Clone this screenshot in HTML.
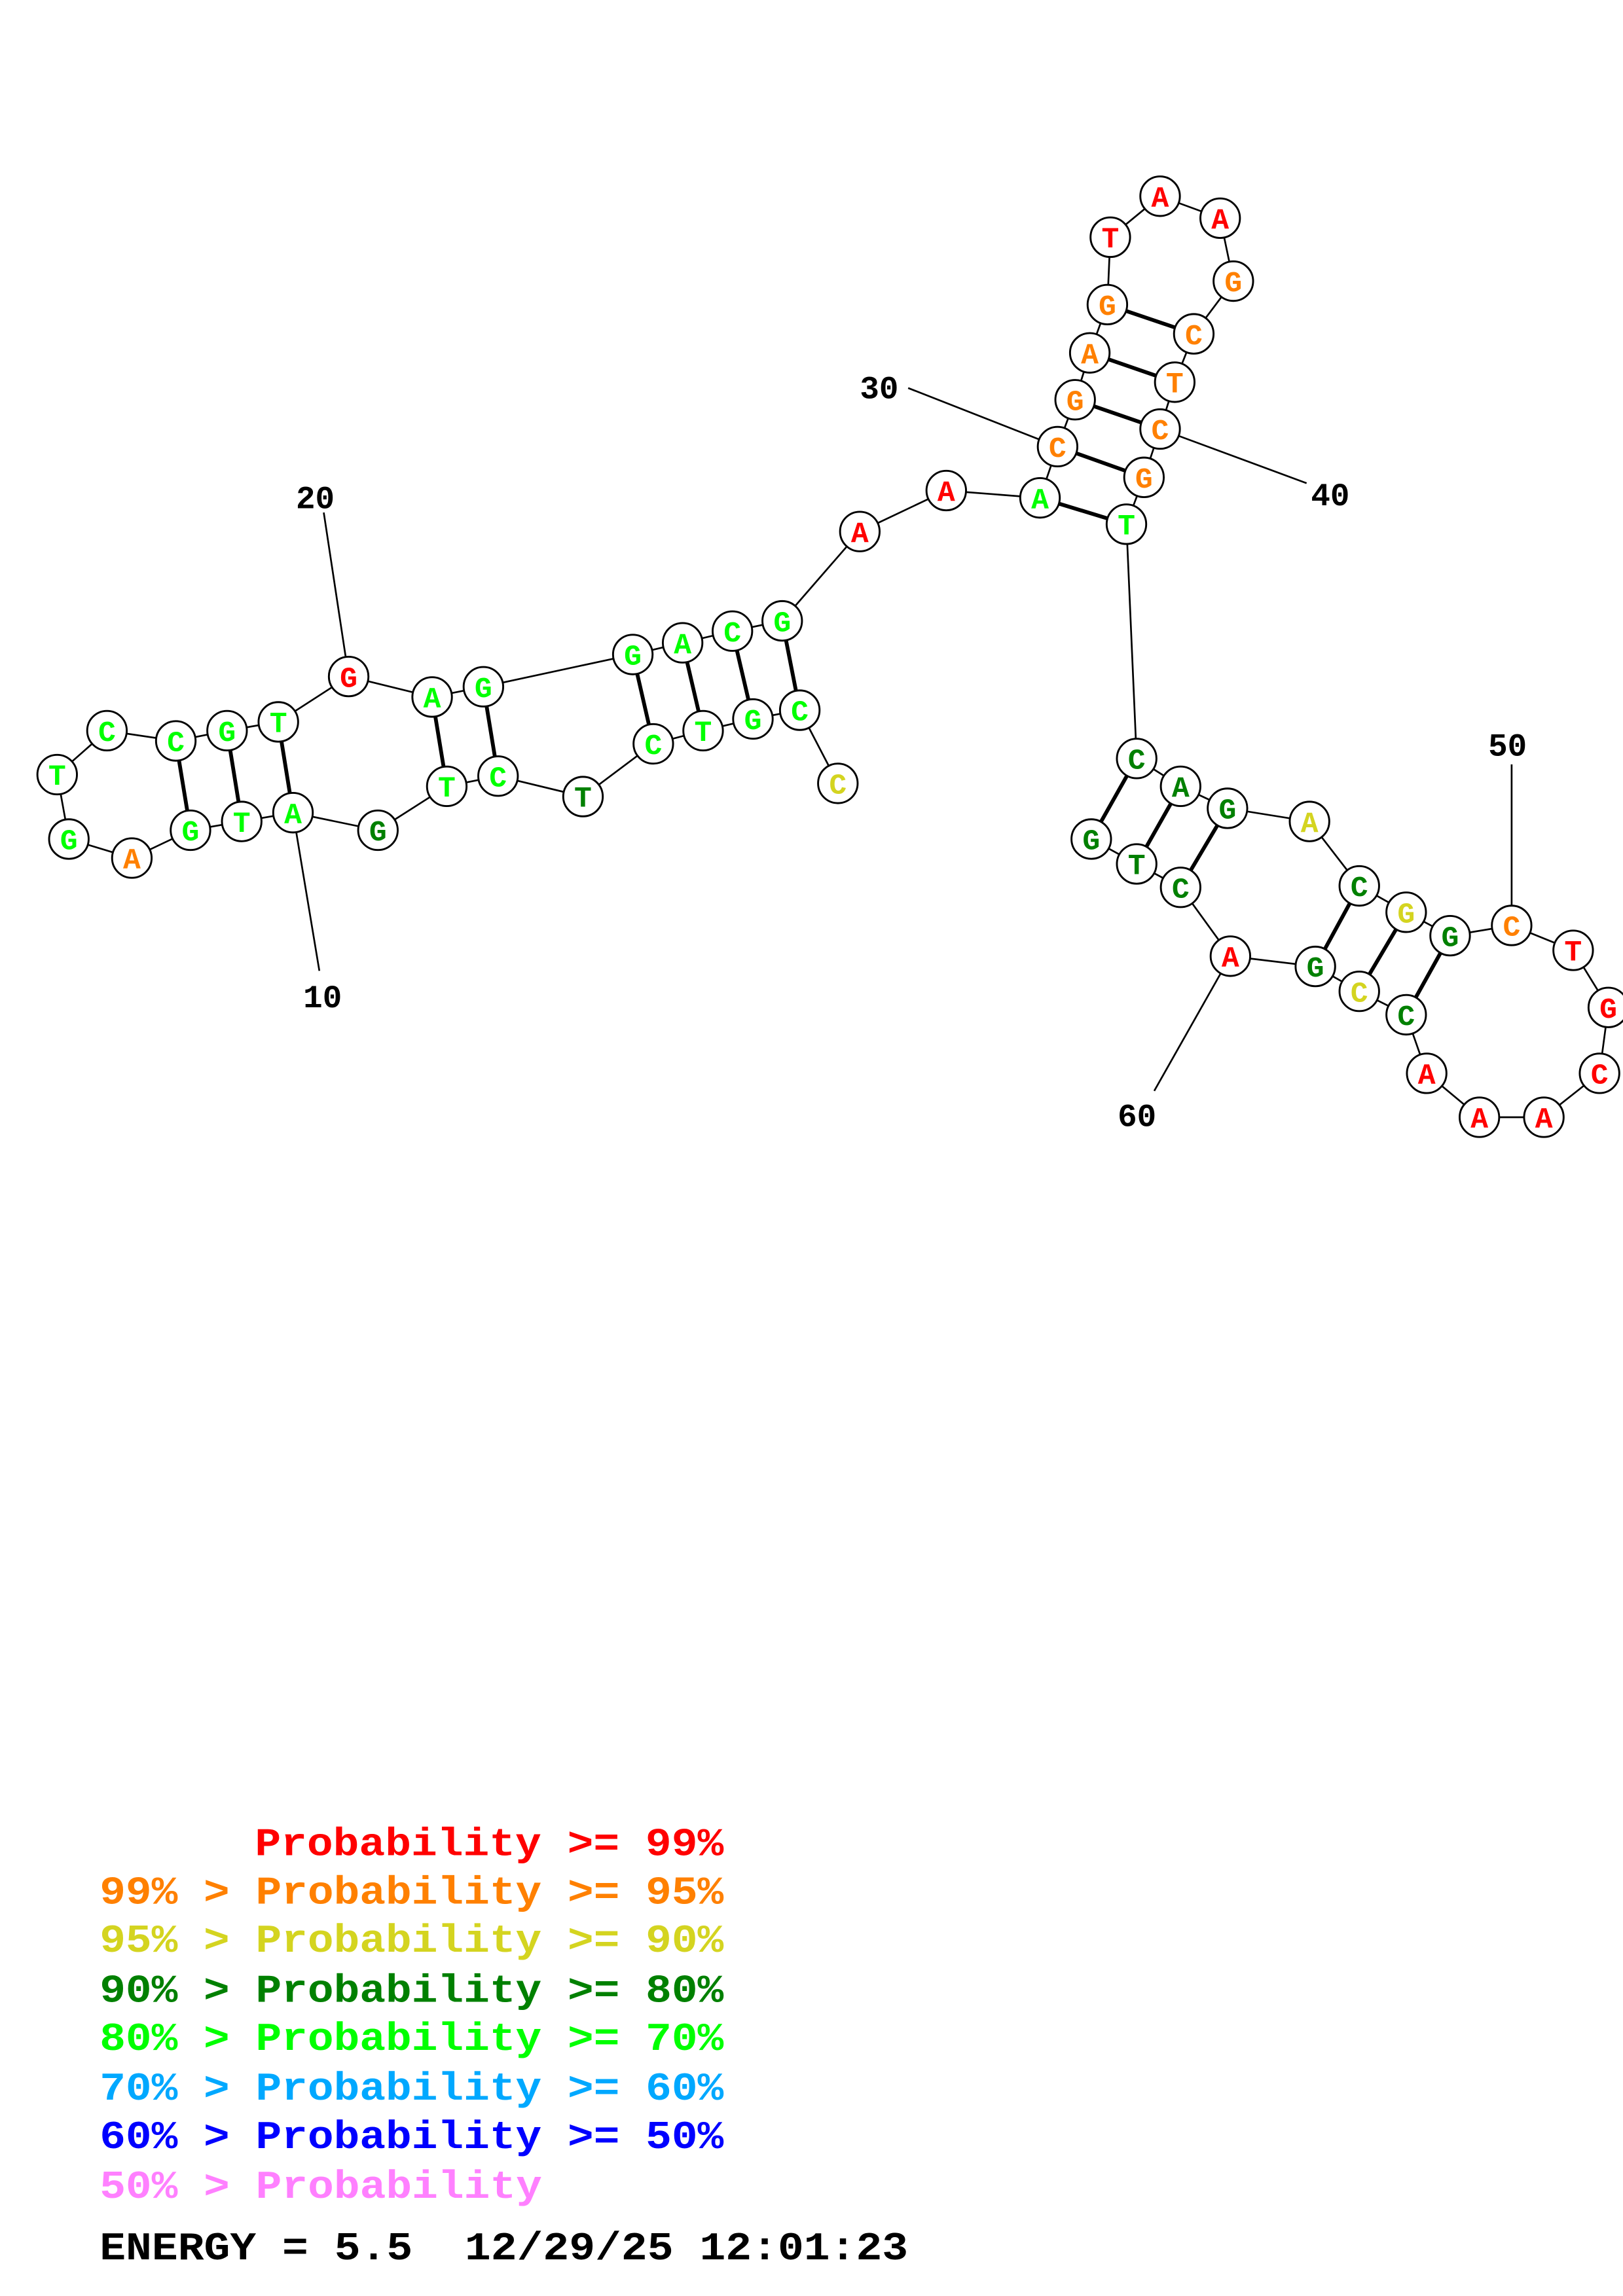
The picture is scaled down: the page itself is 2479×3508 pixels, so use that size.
<!DOCTYPE html>
<html><head><meta charset="utf-8"><style>
html,body{margin:0;padding:0;background:#fff;}
svg{display:block;}
.n circle{fill:#fff;stroke:#000;stroke-width:1.3;}
.n text{font-family:"Liberation Mono",monospace;font-weight:bold;font-size:20px;text-anchor:middle;}
.bb{stroke:#000;stroke-width:1.2;fill:none;}
.bp{stroke:#000;stroke-width:2.6;}
.lab{font-family:"Liberation Mono",monospace;font-weight:bold;font-size:22px;fill:#000;}
.lg{font-family:"Liberation Mono",monospace;font-weight:bold;font-size:27px;white-space:pre;}
</style></head><body>
<svg width="2479" height="3508" viewBox="0 0 1108 1568" xmlns="http://www.w3.org/2000/svg">
<polyline class="bb" points="572,535 546,485 514,491 480,499 446,508 398,544 340,530 305,537 258,567 200,555 165,561 130,567 90,586 47,573 39,529 73,499 120,506 155,499 190,493 238,462 295,476 330,469 432,447 466,439 500,431 534,424 587,363 646,335 710,340 722,305 734,273 744,241 756,208 758,162 792,134 833,149 842,192 815,228 802,261 792,293 781,326 769,358 776,518 806,537 838,552 894,561 928,605 960,623 990,639 1032,632 1074,649 1098,688 1092,733 1054,763 1010,763 974,733 960,693 928,677 898,660 840,653 806,606 776,590 745,573"/>
<g class="bp">
<line x1="546" y1="485" x2="534" y2="424"/><line x1="514" y1="491" x2="500" y2="431"/>
<line x1="480" y1="499" x2="466" y2="439"/><line x1="446" y1="508" x2="432" y2="447"/>
<line x1="340" y1="530" x2="330" y2="469"/><line x1="305" y1="537" x2="295" y2="476"/>
<line x1="200" y1="555" x2="190" y2="493"/><line x1="165" y1="561" x2="155" y2="499"/>
<line x1="130" y1="567" x2="120" y2="506"/>
<line x1="710" y1="340" x2="769" y2="358"/><line x1="722" y1="305" x2="781" y2="326"/>
<line x1="734" y1="273" x2="792" y2="293"/><line x1="744" y1="241" x2="802" y2="261"/>
<line x1="756" y1="208" x2="815" y2="228"/>
<line x1="776" y1="518" x2="745" y2="573"/><line x1="806" y1="537" x2="776" y2="590"/>
<line x1="838" y1="552" x2="806" y2="606"/><line x1="928" y1="605" x2="898" y2="660"/>
<line x1="960" y1="623" x2="928" y2="677"/><line x1="990" y1="639" x2="960" y2="693"/>
</g>
<g class="bb">
<line x1="200" y1="555" x2="218" y2="663"/><line x1="238" y1="462" x2="221" y2="350"/>
<line x1="722" y1="305" x2="620" y2="265"/><line x1="792" y1="293" x2="892" y2="330"/>
<line x1="1032" y1="632" x2="1032" y2="522"/><line x1="840" y1="653" x2="788" y2="745"/>
</g>
<text class="lab" x="207" y="688">10</text>
<text class="lab" x="202" y="347">20</text>
<text class="lab" x="587" y="272">30</text>
<text class="lab" x="895" y="345">40</text>
<text class="lab" x="1016" y="516">50</text>
<text class="lab" x="763" y="769">60</text>
<g class="n">
<circle cx="572" cy="535" r="13.5"/><text x="572" y="542" fill="#d4d420">C</text>
<circle cx="546" cy="485" r="13.5"/><text x="546" y="492" fill="#00ff00">C</text>
<circle cx="514" cy="491" r="13.5"/><text x="514" y="498" fill="#00ff00">G</text>
<circle cx="480" cy="499" r="13.5"/><text x="480" y="506" fill="#00ff00">T</text>
<circle cx="446" cy="508" r="13.5"/><text x="446" y="515" fill="#00ff00">C</text>
<circle cx="398" cy="544" r="13.5"/><text x="398" y="551" fill="#008000">T</text>
<circle cx="340" cy="530" r="13.5"/><text x="340" y="537" fill="#00ff00">C</text>
<circle cx="305" cy="537" r="13.5"/><text x="305" y="544" fill="#00ff00">T</text>
<circle cx="258" cy="567" r="13.5"/><text x="258" y="574" fill="#008000">G</text>
<circle cx="200" cy="555" r="13.5"/><text x="200" y="562" fill="#00ff00">A</text>
<circle cx="165" cy="561" r="13.5"/><text x="165" y="568" fill="#00ff00">T</text>
<circle cx="130" cy="567" r="13.5"/><text x="130" y="574" fill="#00ff00">G</text>
<circle cx="90" cy="586" r="13.5"/><text x="90" y="593" fill="#ff8000">A</text>
<circle cx="47" cy="573" r="13.5"/><text x="47" y="580" fill="#00ff00">G</text>
<circle cx="39" cy="529" r="13.5"/><text x="39" y="536" fill="#00ff00">T</text>
<circle cx="73" cy="499" r="13.5"/><text x="73" y="506" fill="#00ff00">C</text>
<circle cx="120" cy="506" r="13.5"/><text x="120" y="513" fill="#00ff00">C</text>
<circle cx="155" cy="499" r="13.5"/><text x="155" y="506" fill="#00ff00">G</text>
<circle cx="190" cy="493" r="13.5"/><text x="190" y="500" fill="#00ff00">T</text>
<circle cx="238" cy="462" r="13.5"/><text x="238" y="469" fill="#ff0000">G</text>
<circle cx="295" cy="476" r="13.5"/><text x="295" y="483" fill="#00ff00">A</text>
<circle cx="330" cy="469" r="13.5"/><text x="330" y="476" fill="#00ff00">G</text>
<circle cx="432" cy="447" r="13.5"/><text x="432" y="454" fill="#00ff00">G</text>
<circle cx="466" cy="439" r="13.5"/><text x="466" y="446" fill="#00ff00">A</text>
<circle cx="500" cy="431" r="13.5"/><text x="500" y="438" fill="#00ff00">C</text>
<circle cx="534" cy="424" r="13.5"/><text x="534" y="431" fill="#00ff00">G</text>
<circle cx="587" cy="363" r="13.5"/><text x="587" y="370" fill="#ff0000">A</text>
<circle cx="646" cy="335" r="13.5"/><text x="646" y="342" fill="#ff0000">A</text>
<circle cx="710" cy="340" r="13.5"/><text x="710" y="347" fill="#00ff00">A</text>
<circle cx="722" cy="305" r="13.5"/><text x="722" y="312" fill="#ff8000">C</text>
<circle cx="734" cy="273" r="13.5"/><text x="734" y="280" fill="#ff8000">G</text>
<circle cx="744" cy="241" r="13.5"/><text x="744" y="248" fill="#ff8000">A</text>
<circle cx="756" cy="208" r="13.5"/><text x="756" y="215" fill="#ff8000">G</text>
<circle cx="758" cy="162" r="13.5"/><text x="758" y="169" fill="#ff0000">T</text>
<circle cx="792" cy="134" r="13.5"/><text x="792" y="141" fill="#ff0000">A</text>
<circle cx="833" cy="149" r="13.5"/><text x="833" y="156" fill="#ff0000">A</text>
<circle cx="842" cy="192" r="13.5"/><text x="842" y="199" fill="#ff8000">G</text>
<circle cx="815" cy="228" r="13.5"/><text x="815" y="235" fill="#ff8000">C</text>
<circle cx="802" cy="261" r="13.5"/><text x="802" y="268" fill="#ff8000">T</text>
<circle cx="792" cy="293" r="13.5"/><text x="792" y="300" fill="#ff8000">C</text>
<circle cx="781" cy="326" r="13.5"/><text x="781" y="333" fill="#ff8000">G</text>
<circle cx="769" cy="358" r="13.5"/><text x="769" y="365" fill="#00ff00">T</text>
<circle cx="776" cy="518" r="13.5"/><text x="776" y="525" fill="#008000">C</text>
<circle cx="806" cy="537" r="13.5"/><text x="806" y="544" fill="#008000">A</text>
<circle cx="838" cy="552" r="13.5"/><text x="838" y="559" fill="#008000">G</text>
<circle cx="894" cy="561" r="13.5"/><text x="894" y="568" fill="#d4d420">A</text>
<circle cx="928" cy="605" r="13.5"/><text x="928" y="612" fill="#008000">C</text>
<circle cx="960" cy="623" r="13.5"/><text x="960" y="630" fill="#d4d420">G</text>
<circle cx="990" cy="639" r="13.5"/><text x="990" y="646" fill="#008000">G</text>
<circle cx="1032" cy="632" r="13.5"/><text x="1032" y="639" fill="#ff8000">C</text>
<circle cx="1074" cy="649" r="13.5"/><text x="1074" y="656" fill="#ff0000">T</text>
<circle cx="1098" cy="688" r="13.5"/><text x="1098" y="695" fill="#ff0000">G</text>
<circle cx="1092" cy="733" r="13.5"/><text x="1092" y="740" fill="#ff0000">C</text>
<circle cx="1054" cy="763" r="13.5"/><text x="1054" y="770" fill="#ff0000">A</text>
<circle cx="1010" cy="763" r="13.5"/><text x="1010" y="770" fill="#ff0000">A</text>
<circle cx="974" cy="733" r="13.5"/><text x="974" y="740" fill="#ff0000">A</text>
<circle cx="960" cy="693" r="13.5"/><text x="960" y="700" fill="#008000">C</text>
<circle cx="928" cy="677" r="13.5"/><text x="928" y="684" fill="#d4d420">C</text>
<circle cx="898" cy="660" r="13.5"/><text x="898" y="667" fill="#008000">G</text>
<circle cx="840" cy="653" r="13.5"/><text x="840" y="660" fill="#ff0000">A</text>
<circle cx="806" cy="606" r="13.5"/><text x="806" y="613" fill="#008000">C</text>
<circle cx="776" cy="590" r="13.5"/><text x="776" y="597" fill="#008000">T</text>
<circle cx="745" cy="573" r="13.5"/><text x="745" y="580" fill="#008000">G</text>
</g>
<text class="lg" x="174" y="1267" fill="#ff0000" textLength="320" lengthAdjust="spacingAndGlyphs">Probability &gt;= 99%</text>
<text class="lg" x="68" y="1300" fill="#ff8000" textLength="426" lengthAdjust="spacingAndGlyphs">99% &gt; Probability &gt;= 95%</text>
<text class="lg" x="68" y="1333" fill="#d4d420" textLength="426" lengthAdjust="spacingAndGlyphs">95% &gt; Probability &gt;= 90%</text>
<text class="lg" x="68" y="1367" fill="#008000" textLength="426" lengthAdjust="spacingAndGlyphs">90% &gt; Probability &gt;= 80%</text>
<text class="lg" x="68" y="1400" fill="#00ff00" textLength="426" lengthAdjust="spacingAndGlyphs">80% &gt; Probability &gt;= 70%</text>
<text class="lg" x="68" y="1434" fill="#00a8ff" textLength="426" lengthAdjust="spacingAndGlyphs">70% &gt; Probability &gt;= 60%</text>
<text class="lg" x="68" y="1467" fill="#0000ff" textLength="426" lengthAdjust="spacingAndGlyphs">60% &gt; Probability &gt;= 50%</text>
<text class="lg" x="68" y="1501" fill="#ff80ff" textLength="302" lengthAdjust="spacingAndGlyphs">50% &gt; Probability</text>
<text class="lg" x="68" y="1543" fill="#000" textLength="552" lengthAdjust="spacingAndGlyphs">ENERGY = 5.5  12/29/25 12:01:23</text>
</svg>
</body></html>
